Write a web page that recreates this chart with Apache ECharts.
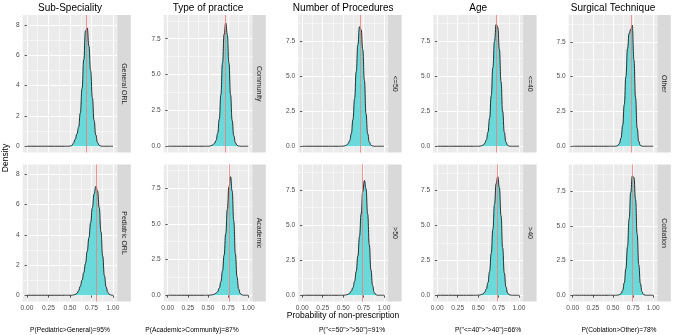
<!DOCTYPE html>
<html>
<head>
<meta charset="utf-8">
<script src="https://cdn.jsdelivr.net/npm/echarts@6/dist/echarts.min.js"></script>
<style>
  html, body { margin: 0; padding: 0; background: #fff; }
  #chart { width: 675px; height: 335px; }
</style>
</head>
<body>
<div id="chart"></div>
<script>
// column titles, facet strips and the comparison under each column
var columnTitles = ["Sub-Speciality", "Type of practice", "Number of Procedures", "Age", "Surgical Technique"];
var rowLabels = [["General ORL", "Pediatric ORL"], ["Community", "Academic"], ["<=50", ">50"], ["<=40", ">40"], ["Other", "Coblation"]];
var compareLabels = ['P(Pediatric>General)=95%', 'P(Academic>Community)=87%', 'P("<=50">">50")=91%', 'P("<=40">">40")=66%', 'P(Coblation>Other)=78%'];

var xGrid = [0, 0.44, 0.46, 0.48, 0.50, 0.52, 0.54, 0.56, 0.58, 0.60, 0.62, 0.64, 0.66, 0.68, 0.70,
             0.72, 0.74, 0.76, 0.78, 0.80, 0.82, 0.84, 0.86, 0.88, 0.90, 0.92, 0.94, 0.96, 0.98, 1.00];

// densities (same order as xGrid)
var densGeneral   = [0, 0,0,0, 0.01, 0.05,0.2,0.45,0.8,1.25, 2.2,3.8,5.7,7.6,7.8, 6.6,5.0,3.2,1.7,0.75, 0.25,0.06,0.01, 0,0,0,0,0,0,0];
var densPediatric = [0, 0,0,0,0,0, 0.02,0.05,0.12,0.3, 0.6,1.0,1.5,2.1,2.9, 3.8,4.8,5.8,6.7,7.2, 6.9,5.8,4.2,2.6,1.3, 0.55,0.18,0.05,0.01, 0];
var densCommunity = [0, 0,0,0,0, 0.01,0.04,0.1,0.2,0.4, 0.9,1.9,3.6,5.8,7.8, 8.6,7.8,5.8,3.6,1.8, 0.75,0.25,0.07,0.02, 0,0,0,0,0,0];
var densAcademic  = [0, 0,0,0,0, 0.01,0.02,0.04,0.08,0.15, 0.25,0.5,0.95,1.7,2.8, 4.3,6.0,7.6,8.3,7.3, 5.2,2.9,1.3,0.45,0.12, 0.03,0,0,0,0];
var densLe50      = [0, 0,0,0, 0.01, 0.03,0.08,0.18,0.4,0.9, 1.9,3.4,5.3,7.2,8.5, 8.3,6.9,4.7,2.3,0.9, 0.3,0.07,0.02, 0,0,0,0,0,0,0];
var densGt50      = [0, 0,0,0,0, 0.01,0.03,0.07,0.15,0.3, 0.55,1.0,1.7,2.8,4.2, 5.8,7.4,8.2,7.6,5.8, 3.6,1.8,0.7,0.2,0.05, 0,0,0,0,0];
var densLe40      = [0, 0,0,0,0, 0.01,0.03,0.08,0.2,0.45, 1.0,2.0,3.6,5.6,7.5, 8.7,8.5,6.9,4.6,2.5, 1.0,0.3,0.07,0.01, 0,0,0,0,0,0];
var densGt40      = [0, 0,0,0, 0.01, 0.02,0.05,0.1,0.22,0.45, 0.9,1.7,3.0,4.7,6.5, 8.0,8.5,7.7,5.7,3.4, 1.6,0.6,0.17,0.04,0.01, 0,0,0,0,0];
var densOther     = [0, 0,0,0,0,0, 0.01,0.05,0.2,0.6, 1.5,3.0,5.0,7.0,8.1, 8.4,8.7,6.2,3.5,1.3, 0.35,0.06,0.01, 0,0,0,0,0,0,0];
var densCoblation = [0, 0,0,0,0,0,0, 0.01,0.04,0.12, 0.35,0.9,1.9,3.5,5.5, 7.4,8.6,8.5,6.9,4.4, 2.2,0.85,0.25,0.05,0.01, 0,0,0,0,0];

// red lines (top row, bottom row)
var meanLines = [[0.69, 0.80], [0.72, 0.76], [0.715, 0.735], [0.72, 0.727], [0.73, 0.74]];

// highest density of each column, sets the shared y range
var densityMax = [8.24, 8.72, 8.89, 8.92, 8.98];

// ticks
var xTicks = [0, 0.25, 0.5, 0.75, 1];
var xMinor = [0.125, 0.375, 0.625, 0.875];
var yTicks = [[0, 2, 4, 6, 8], [0, 2.5, 5, 7.5], [0, 2.5, 5, 7.5], [0, 2.5, 5, 7.5], [0, 2.5, 5, 7.5]];
var yMinor = [[1, 3, 5, 7], [1.25, 3.75, 6.25, 8.75], [1.25, 3.75, 6.25, 8.75], [1.25, 3.75, 6.25, 8.75], [1.25, 3.75, 6.25, 8.75]];

var curves = [[densGeneral, densPediatric], [densCommunity, densAcademic], [densLe50, densGt50], [densLe40, densGt40], [densOther, densCoblation]];

// panel placement (px)
var colLeft = [22.7, 163.7, 298.2, 433.2, 568.7];
var colRight = [117.3, 252.3, 388.1, 523.1, 657.3];
var rowTop = [15, 164.5];
var rowBottom = [152.5, 301.5];
var stripW = 13.5;

var FONT = '"Liberation Sans", Arial, sans-serif';
var chart = echarts.init(document.getElementById('chart'));

var grids = [], xAxes = [], yAxes = [], series = [], graphics = [];

for (var c = 0; c < 5; c++) {
  var M = densityMax[c];
  var dec = c === 0 ? 0 : 1;
  for (var r = 0; r < 2; r++) {
    var k = grids.length;
    var isBottom = r === 1;
    grids.push({
      left: colLeft[c], top: rowTop[r],
      width: colRight[c] - colLeft[c], height: rowBottom[r] - rowTop[r],
      show: true, backgroundColor: '#EBEBEB', borderWidth: 0,
      containLabel: false, outerBoundsMode: 'none'
    });
    // major x
    xAxes.push({
      type: 'value', gridIndex: k, position: 'bottom', min: -0.05, max: 1.05,
      axisLine: { show: false },
      axisTick: { show: isBottom, customValues: xTicks, length: 2.5, lineStyle: { color: '#333', width: 0.8 } },
      axisLabel: {
        show: isBottom, customValues: xTicks, margin: 3, fontSize: 6.6, color: '#4D4D4D', fontFamily: FONT,
        formatter: function (v) { return v.toFixed(2); }
      },
      splitLine: { show: true, lineStyle: { color: '#FFFFFF', width: 1 } }
    });
    // minor x
    xAxes.push({
      type: 'value', gridIndex: k, position: 'top', min: -0.05, max: 1.05,
      axisLine: { show: false },
      axisTick: { show: false, customValues: xMinor },
      axisLabel: { show: false },
      splitLine: { show: true, lineStyle: { color: '#FFFFFF', width: 0.5 } }
    });
    // major y
    yAxes.push({
      type: 'value', gridIndex: k, position: 'left', min: -0.05 * M, max: 1.05 * M,
      axisLine: { show: false },
      axisTick: { show: true, customValues: yTicks[c], length: 2.5, lineStyle: { color: '#333', width: 0.8 } },
      axisLabel: {
        show: true, customValues: yTicks[c], margin: 3, fontSize: 6.6, color: '#4D4D4D', fontFamily: FONT,
        formatter: (function (d) { return function (v) { return v.toFixed(d); }; })(dec)
      },
      splitLine: { show: true, lineStyle: { color: '#FFFFFF', width: 1 } }
    });
    // minor y
    yAxes.push({
      type: 'value', gridIndex: k, position: 'right', min: -0.05 * M, max: 1.05 * M,
      axisLine: { show: false },
      axisTick: { show: false, customValues: yMinor[c] },
      axisLabel: { show: false },
      splitLine: { show: true, lineStyle: { color: '#FFFFFF', width: 0.5 } }
    });

    var dens = curves[c][r];
    series.push({
      type: 'line',
      xAxisIndex: 2 * k, yAxisIndex: 2 * k,
      data: xGrid.map(function (x, i) { return [x, dens[i]]; }),
      smooth: 0.5,
      smoothMonotone: 'x',
      symbol: 'none',
      silent: true,
      lineStyle: { color: '#1A1A1A', width: 0.9 },
      areaStyle: { color: '#6AD9D9', opacity: 1 },
      markLine: {
        silent: true, symbol: ['none', 'none'], label: { show: false },
        lineStyle: { color: '#F47C7C', width: 0.9, type: 'solid', opacity: 0.9 },
        data: [{ xAxis: meanLines[c][r] }]
      }
    });

    // facet strip on the right
    graphics.push({
      type: 'rect', silent: true,
      shape: { x: colRight[c], y: rowTop[r], width: stripW, height: rowBottom[r] - rowTop[r] },
      style: { fill: '#D9D9D9' }
    });
    graphics.push({
      type: 'text', silent: true,
      x: colRight[c] + stripW / 2, y: (rowTop[r] + rowBottom[r]) / 2,
      rotation: -Math.PI / 2,
      style: { text: rowLabels[c][r], fill: '#1A1A1A', fontSize: 7, fontFamily: FONT, align: 'center', verticalAlign: 'middle' }
    });
  }

  // column title
  graphics.push({
    type: 'text', silent: true,
    x: (colLeft[c] + colRight[c]) / 2, y: 8,
    style: { text: columnTitles[c], fill: '#000', fontSize: 10, fontFamily: FONT, align: 'center', verticalAlign: 'middle' }
  });
}

// comparison notes under each column
var noteX = [70, 192, 352, 488, 619];
for (var j = 0; j < 5; j++) {
  graphics.push({
    type: 'text', silent: true, x: noteX[j], y: 330,
    style: { text: compareLabels[j], fill: '#000', fontSize: 6.7, fontFamily: FONT, align: 'center', verticalAlign: 'middle' }
  });
}

// axis titles
graphics.push({
  type: 'text', silent: true, x: 5.5, y: 158, rotation: Math.PI / 2,
  style: { text: 'Density', fill: '#000', fontSize: 8.5, fontFamily: FONT, align: 'center', verticalAlign: 'middle' }
});
graphics.push({
  type: 'text', silent: true, x: 343, y: 316,
  style: { text: 'Probability of non-prescription', fill: '#000', fontSize: 8.5, fontFamily: FONT, align: 'center', verticalAlign: 'middle' }
});

chart.setOption({
  animation: false,
  backgroundColor: '#FFFFFF',
  grid: grids,
  xAxis: xAxes,
  yAxis: yAxes,
  series: series,
  graphic: graphics
});
</script>
</body>
</html>
